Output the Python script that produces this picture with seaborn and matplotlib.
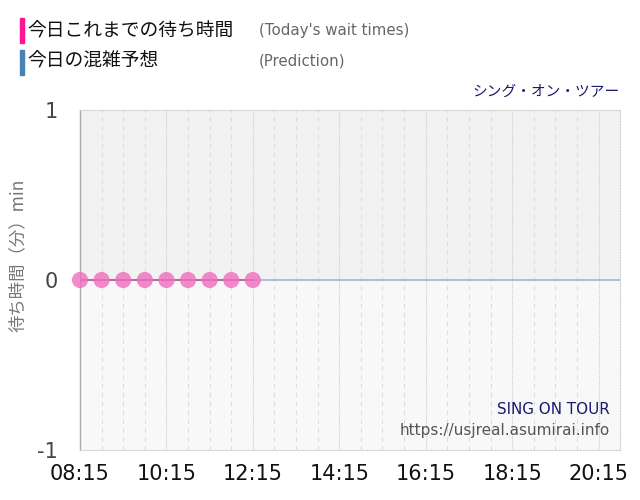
import pandas as pd
import numpy as np
import matplotlib
matplotlib.use('Agg')
import matplotlib.pyplot as plt
import seaborn as sns

# data
today_times = ['08:15', '08:45', '09:15', '09:45', '10:15', '10:45', '11:15', '11:45', '12:15']
today_waits = [0, 0, 0, 0, 0, 0, 0, 0, 0]
pred_times = ['08:15', '20:45']
pred_waits = [0, 0]
tick_labels = ['08:15', '10:15', '12:15', '14:15', '16:15', '18:15', '20:15']


def to_hours(t):
    h, m = t.split(':')
    return int(h) + int(m) / 60


today = pd.DataFrame({'t': [to_hours(t) for t in today_times], 'wait': today_waits})
pred = pd.DataFrame({'t': [to_hours(t) for t in pred_times], 'wait': pred_waits})

sns.set_style('white')
plt.rcParams['font.family'] = ['DejaVu Sans', 'Noto Sans CJK JP']
jp = ['Noto Sans CJK JP', 'DejaVu Sans']

fig = plt.figure(figsize=(6.4, 5), dpi=100)
ax = fig.add_axes([0.125, 0.1, 0.844, 0.68])

x0, x1 = to_hours('08:15'), to_hours('20:45')
ax.set_xlim(x0, x1)
ax.set_ylim(-1, 1)

# background bands
ax.axhspan(0, 1, color='#f2f2f2', zorder=0)
ax.axhspan(-1, 0, color='#f8f8f8', zorder=0)

# grid: 30 min dashed, every 2 h dotted
for v in np.arange(x0, x1 + 0.01, 0.5):
    if abs((v - x0) % 2) < 1e-6:
        ax.axvline(v, color='#cccccc', lw=0.8, ls=(0, (1, 1)), zorder=1)
    else:
        ax.axvline(v, color='#dddddd', lw=0.8, ls=(0, (4, 4)), zorder=1)

sns.lineplot(data=pred, x='t', y='wait', ax=ax, color='#9fb6cc', lw=1.2, zorder=2)
sns.lineplot(data=today, x='t', y='wait', ax=ax, color='#b05aa0', lw=1.2, zorder=3)
sns.scatterplot(data=today, x='t', y='wait', ax=ax, color='#f06ebe', alpha=0.8,
                s=135, edgecolor='none', zorder=4, clip_on=False)

ax.set_xticks([to_hours(t) for t in tick_labels])
ax.set_xticklabels(tick_labels, fontsize=15, color='#111111')
ax.set_yticks([-1, 0, 1])
ax.set_yticklabels(['-1', '0', '1'], fontsize=15, color='#444444')
ax.tick_params(axis='x', length=10, color='#dddddd', pad=0)
ax.tick_params(axis='y', length=14, color='#dddddd', pad=2)
ax.set_xlabel('')
ax.set_ylabel('')
fig.text(18 / 640, 1 - 255 / 500, '待ち時間（分）min', family=jp, fontsize=12.5,
         color='#777777', rotation=90, ha='center', va='center')

for side in ['top', 'bottom', 'right']:
    ax.spines[side].set_color('#d0d0d0')
    ax.spines[side].set_linestyle((0, (1, 1.5)))
    ax.spines[side].set_linewidth(0.8)
ax.spines['left'].set_color('#aaaaaa')
ax.spines['left'].set_linewidth(1)

# legend block
fig.patches.append(plt.Rectangle((20 / 640, 1 - 43 / 500), 4 / 640, 25 / 500,
                                 color='#ff1493', transform=fig.transFigure, figure=fig))
fig.patches.append(plt.Rectangle((20 / 640, 1 - 75 / 500), 4 / 640, 25 / 500,
                                 color='#4682b4', transform=fig.transFigure, figure=fig))
fig.text(27 / 640, 1 - 31 / 500, '今日これまでの待ち時間', family=jp, fontsize=13.5,
         color='#111111', va='center')
fig.text(27 / 640, 1 - 61 / 500, '今日の混雑予想', family=jp, fontsize=13.5,
         color='#111111', va='center')
fig.text(259 / 640, 1 - 31 / 500, "(Today's wait times)", fontsize=10.8,
         color='#666666', va='center')
fig.text(259 / 640, 1 - 61 / 500, '(Prediction)', fontsize=10.8,
         color='#666666', va='center')

fig.text(620 / 640, 1 - 92 / 500, 'シング・オン・ツアー', family=jp, fontsize=10.6,
         color='#1a1a6e', ha='right', va='center')
fig.text(610 / 640, 1 - 410 / 500, 'SING ON TOUR', fontsize=10.9,
         color='#1a1a6e', ha='right', va='center')
fig.text(610 / 640, 1 - 431 / 500, 'https://usjreal.asumirai.info', fontsize=11,
         color='#555555', ha='right', va='center')

fig.savefig('out.png', dpi=100)
